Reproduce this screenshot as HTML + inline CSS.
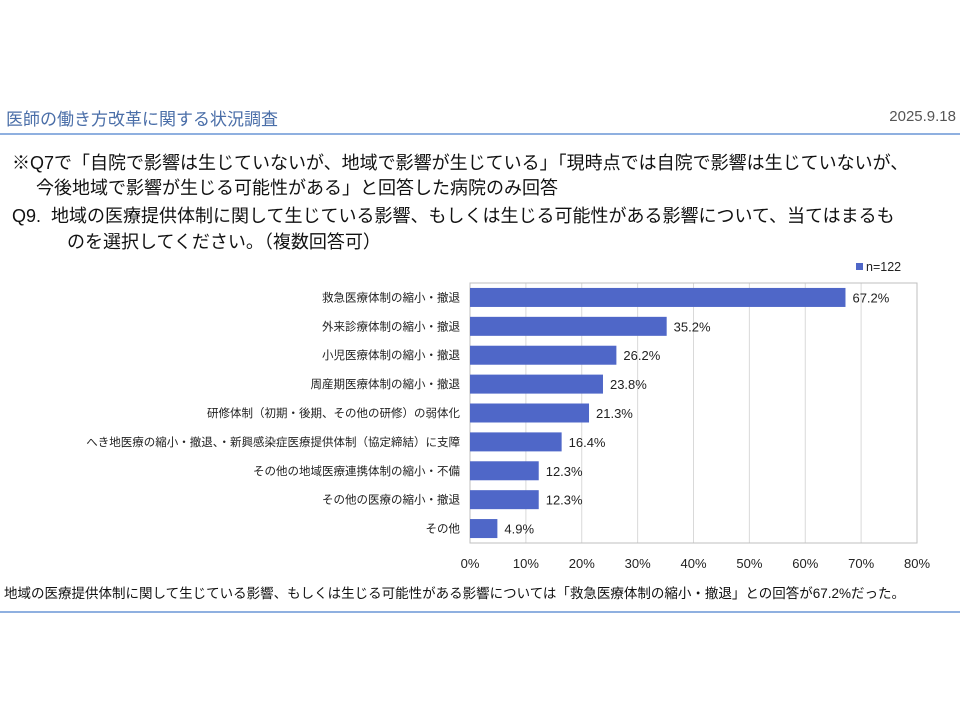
<!DOCTYPE html>
<html><head><meta charset="utf-8"><style>
body{margin:0;width:960px;height:720px;background:#fff;font-family:"Liberation Sans","Noto Sans CJK JP",sans-serif;position:relative;overflow:hidden;color:#111}
.a{position:absolute;white-space:nowrap}
</style></head><body>
<div class="a" style="left:6px;top:105px;font-size:17px;color:#4a6ea8">医師の働き方改革に関する状況調査</div>
<div class="a" style="right:4px;top:108px;font-size:15px;color:#555">2025.9.18</div>
<div class="a" style="left:0;top:133px;width:960px;height:2px;background:#8fb0e0"></div>
<div class="a" style="left:12px;top:149px;font-size:18px">※Q7で「自院で影響は生じていないが、地域で影響が生じている」「現時点では自院で影響は生じていないが、</div>
<div class="a" style="left:36px;top:174px;font-size:18px">今後地域で影響が生じる可能性がある」と回答した病院のみ回答</div>
<div class="a" style="left:12px;top:202px;font-size:18px">Q9.&nbsp; 地域の医療提供体制に関して生じている影響、もしくは生じる可能性がある影響について、当てはまるも</div>
<div class="a" style="left:67px;top:228px;font-size:18px">のを選択してください。（複数回答可）</div>
<svg class="a" style="left:0;top:0" width="960" height="720" id="chart"></svg>
<div class="a" style="left:4px;top:582px;font-size:13.5px">地域の医療提供体制に関して生じている影響、もしくは生じる可能性がある影響については「救急医療体制の縮小・撤退」との回答が67.2%だった。</div>
<div class="a" style="left:0;top:611px;width:960px;height:2px;background:#8fb0e0"></div>
<script>
const categories=["救急医療体制の縮小・撤退","外来診療体制の縮小・撤退","小児医療体制の縮小・撤退","周産期医療体制の縮小・撤退","研修体制（初期・後期、その他の研修）の弱体化","へき地医療の縮小・撤退、・新興感染症医療提供体制（協定締結）に支障","その他の地域医療連携体制の縮小・不備","その他の医療の縮小・撤退","その他"];
const values=[67.2,35.2,26.2,23.8,21.3,16.4,12.3,12.3,4.9];
const ticks=[0,10,20,30,40,50,60,70,80];
const seriesName="n=122";
const svg=document.getElementById('chart');const NS='http://www.w3.org/2000/svg';
const x0=470,x1=917,y0=283,y1=543,xmax=80;
const X=v=>x0+(v/xmax)*(x1-x0);
const band=(y1-y0)/categories.length;
function mk(t,a){const e=document.createElementNS(NS,t);for(const k in a)e.setAttribute(k,a[k]);svg.appendChild(e);return e;}
ticks.forEach(t=>{
const g=mk('line',{x1:X(t),x2:X(t),y1:y0,y2:y1,stroke:'#d9d9d9','stroke-width':1});


const l=mk('text',{x:X(t),y:y1+25,'text-anchor':'middle','font-size':13,fill:'#222'});l.textContent=t+'%';


});
const fr=mk('rect',{x:x0,y:y0,width:x1-x0,height:y1-y0,fill:'none',stroke:'#bfbfbf'});


categories.forEach((c,i)=>{
const cy=y0+band*(i+0.5),h=19;
const b=mk('rect',{x:x0,y:cy-h/2,width:X(values[i])-x0,height:h,fill:'#4f67c8'});


const v=mk('text',{x:X(values[i])+7,y:cy+5,'font-size':13,fill:'#222'});v.textContent=values[i].toFixed(1)+'%';


const l=mk('text',{x:x0-10,y:cy+4,'text-anchor':'end','font-size':11.5,fill:'#222'});l.textContent=c;


});
const lg=mk('rect',{x:856,y:263,width:7,height:7,fill:'#4f67c8'});


const lt=mk('text',{x:866,y:271,'font-size':12.5,fill:'#222'});lt.textContent=seriesName;


</script>
</body></html>
